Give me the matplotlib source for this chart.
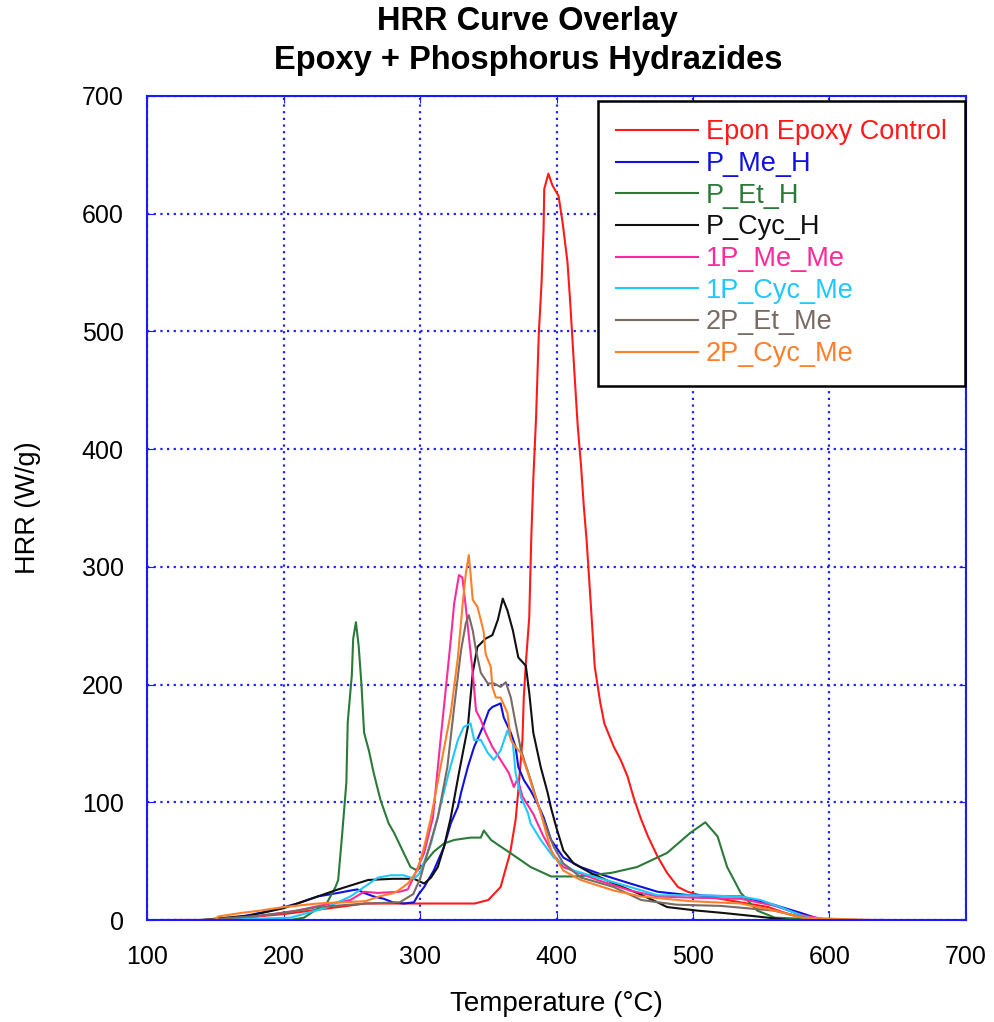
import matplotlib
matplotlib.use("Agg")
import matplotlib.pyplot as plt

plt.rcParams['font.family'] = ['Liberation Sans', 'DejaVu Sans']

# --- data (temperature in C, HRR in W/g) ---
epon_t = [120, 150, 200, 240, 260, 300, 340, 350, 359, 366, 370, 372, 375, 376, 377.5, 380, 381.5,
          383, 385, 387, 389, 390.5, 391, 394, 397, 401.5, 404.5, 408, 410, 413, 415.5, 418, 420,
          422, 425, 428, 432, 435, 442, 447, 452, 456.5, 461.5, 467, 474, 481, 489, 496, 505, 520,
          540, 555, 570, 580, 600, 640]
epon_h = [0, 0, 5, 11, 14, 14, 14, 17, 28, 57, 85, 110, 153, 189, 218, 257, 325,
          375, 427, 498, 541, 587, 621, 634, 624, 615, 592, 559, 525, 467, 420, 385, 351,
          323, 270, 215, 185, 167, 147, 136, 122, 104, 87, 71, 54, 40, 28, 24, 21, 18,
          14, 11, 5, 2, 0, 0]

pmeh_t = [110, 150, 170, 191, 210, 225, 240, 249, 254, 259, 266, 273.5, 280, 288, 295.5, 299, 303,
          310, 317.5, 322.5, 327.7, 330, 335, 339.6, 346, 350.4, 353, 359, 361.3, 366.5, 370, 372,
          376, 381, 386, 390.6, 396, 405, 417.7, 434.6, 454, 474, 498, 535, 559, 579, 595, 640]
pmeh_h = [0, 0, 3, 8, 14, 20, 23, 25, 26, 23, 20, 18, 15, 14, 15, 22, 28,
          42, 62, 82, 96, 108, 130, 147, 164, 178, 181, 184, 172, 159, 147, 130,
          119, 110, 99, 87, 68, 53, 45, 38, 31, 24, 21, 20, 13, 6, 0, 0]

peth_t = [150, 205, 215, 232, 238, 240, 243, 246, 247, 250, 251, 253, 255, 257, 259, 262.5, 266,
          271, 277, 281, 288, 293, 298, 303, 310, 317.5, 325, 337, 344.5, 346.7, 352, 357, 366,
          381, 396, 415.5, 440, 459, 481, 498, 509, 518, 525, 535, 547, 560, 600]
peth_h = [0, 0, 2, 15, 28, 34, 74, 117, 168, 208, 239, 253, 233, 201, 159, 144, 125,
          102, 82, 74, 57, 45, 42, 48, 58, 65, 68, 70, 70, 76, 68, 64, 57,
          45, 37, 37, 40, 45, 57, 74, 83, 71, 45, 23, 8, 2, 0]

pcych_t = [140, 176, 200, 220, 240, 262, 280, 295.5, 303, 308, 313, 317.5, 322.5, 328.5, 335,
           338.6, 342, 348, 353, 357, 360.6, 364, 368, 372, 377.5, 380, 383, 388.4, 393.5, 396,
           400, 405, 412.6, 425, 442, 459, 474, 481, 503, 522, 547, 570, 600]
pcych_h = [0, 4, 10, 18, 26, 34, 35, 35, 31, 36, 45, 62, 87, 125, 164,
           210, 232, 239, 242, 255, 273, 263, 246, 223, 216, 193, 159, 130, 108, 95,
           78, 59, 48, 40, 31, 23, 15, 11, 8, 6, 3, 0, 0]

p1meme_t = [110, 150, 180, 210, 230, 249, 259, 269, 285, 291, 295.5, 303, 309.4, 315, 319, 322.5,
            325, 328.5, 331, 333.5, 336, 338.6, 341, 344.5, 348, 353, 359, 365, 368.7, 371.5, 375,
            383, 390, 398, 405, 430, 454, 474, 500, 535, 560, 580, 600, 680]
p1meme_h = [0, 0, 3, 8, 13, 17, 24, 23, 24, 26, 37, 57, 87, 153, 198, 238,
            269, 293, 291, 266, 238, 210, 178, 170, 159, 147, 136, 125, 113, 120, 105,
            90, 72, 55, 45, 34, 25, 20, 19, 18, 12, 4, 0, 0]

p1cycme_t = [150, 205, 230, 249, 259, 269, 278.6, 288, 295.5, 300, 308, 313, 321, 327.7, 332, 337,
             339.6, 344.5, 349.6, 354, 359, 364, 368, 370, 374, 379, 381, 388.4, 398, 412.6, 430,
             454, 474, 500, 535, 549.5, 564, 579, 590, 620]
p1cycme_h = [0, 2, 10, 20, 28, 36, 38, 38, 35, 40, 65, 88, 125, 153, 164, 167,
             153, 153, 142, 136, 144, 161, 150, 125, 104, 91, 82, 68, 53, 42, 36,
             28, 21, 21, 20, 17, 11, 4, 0, 0]

p2etme_t = [140, 176, 200, 225, 260, 285, 295, 300, 305, 310, 313, 320, 325, 330, 333.5, 335.7,
            338.6, 341, 344.5, 349.6, 354, 359, 362.8, 366.5, 370, 374, 381, 388.4, 398, 405, 418,
            442, 462, 488, 520, 559, 590, 620]
p2etme_h = [0, 3, 6, 11, 14, 15, 22, 35, 55, 75, 87, 130, 181, 229, 252, 259,
            246, 229, 210, 201, 201, 198, 202, 189, 167, 144, 119, 91, 62, 48, 36,
            28, 17, 13, 12, 8, 0, 0]

p2cycme_t = [150, 152, 169, 183, 200, 225, 260, 270, 281, 284, 291, 298, 303, 308, 315, 322.5,
             327.7, 331, 333.5, 335.7, 337, 338.6, 342, 344.5, 346.7, 348, 351.8, 353, 355.5, 359,
             364, 366.5, 370, 373.8, 379, 383, 388.4, 396, 405, 417.7, 442, 462, 498, 535, 560,
             580, 630]
p2cycme_h = [0, 3, 6, 8, 11, 14, 16, 20, 23, 25, 31, 42, 62, 87, 130, 176,
             223, 266, 294, 310, 294, 272, 266, 255, 244, 226, 215, 198, 189, 189,
             176, 153, 147, 142, 125, 110, 91, 59, 42, 34, 25, 20, 16, 14, 8,
             2, 0]

labels = ["Epon Epoxy Control", "P_Me_H", "P_Et_H", "P_Cyc_H",
          "1P_Me_Me", "1P_Cyc_Me", "2P_Et_Me", "2P_Cyc_Me"]
colors = ["#ff1a1a", "#1010e0", "#2a7a3a", "#101010",
          "#ff2a9a", "#20c8ff", "#7a6a64", "#ff7f2a"]
series = [(epon_t, epon_h), (pmeh_t, pmeh_h), (peth_t, peth_h), (pcych_t, pcych_h),
          (p1meme_t, p1meme_h), (p1cycme_t, p1cycme_h), (p2etme_t, p2etme_h),
          (p2cycme_t, p2cycme_h)]

fig = plt.figure(figsize=(9.94, 10.22), dpi=100)
ax = fig.add_axes([0.148, 0.0998, 0.8238, 0.8063])

for (t, h), lab, c in zip(series, labels, colors):
    ax.plot(t, h, color=c, lw=1.5, label=lab)

ax.set_xlim(100, 700)
ax.set_ylim(0, 700)
ax.set_xticks(range(100, 701, 100))
ax.set_yticks(range(0, 701, 100))
ax.grid(True, color="#2020ff", linestyle=(0, (1, 2)), linewidth=1.6)
for s in ax.spines.values():
    s.set_color("#1a1aff")
    s.set_linewidth(1.5)
ax.tick_params(direction="in", length=5, color="#1a1aff", top=True, right=True,
               labelsize=18)
ax.tick_params(axis="x", pad=18)
ax.tick_params(axis="y", pad=17)

ax.set_xlabel("Temperature (°C)", fontsize=20, labelpad=16)
ax.set_ylabel("HRR (W/g)", fontsize=19.5, labelpad=29)

fig.text(0.531, 0.994, "HRR Curve Overlay", ha="center", va="top",
         fontsize=23.5, fontweight="bold")
fig.text(0.531, 0.956, "Epoxy + Phosphorus Hydrazides", ha="center", va="top",
         fontsize=23.5, fontweight="bold")

leg = ax.legend(loc="upper right", bbox_to_anchor=(0.999, 0.994), fontsize=19.5,
                handlelength=3.0, handletextpad=0.3, labelspacing=0.21,
                borderpad=0.68, borderaxespad=0.0, fancybox=False, framealpha=1)
leg.get_frame().set_edgecolor("black")
leg.get_frame().set_linewidth(1.8)
for txt, c in zip(leg.get_texts(), colors):
    txt.set_color(c)

fig.savefig("out.png", dpi=100)
